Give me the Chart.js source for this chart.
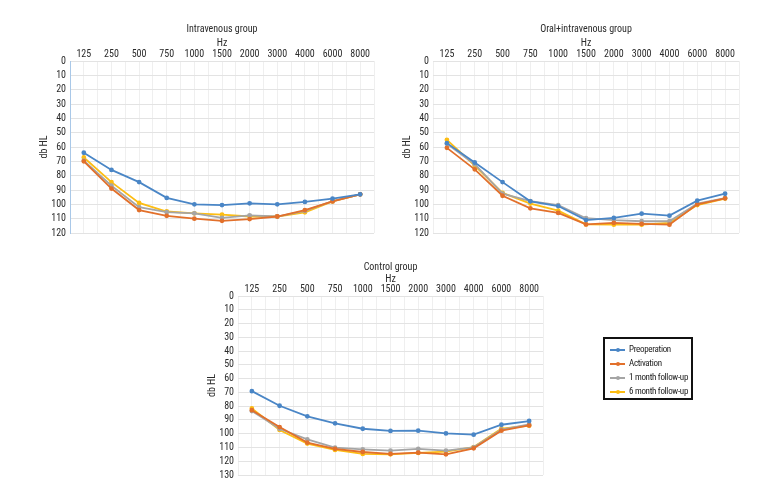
<!DOCTYPE html>
<html>
<head>
<meta charset="utf-8">
<script src="https://cdn.jsdelivr.net/npm/chart.js@4.4.0/dist/chart.umd.min.js"></script>
<style>
  html, body { margin: 0; padding: 0; background: #fff; }
  #page { position: relative; width: 780px; height: 504px; overflow: hidden; }
  #page canvas { position: absolute; left: 0; top: 0; }
  #legend {
    position: absolute; left: 603px; top: 337px; width: 84px; height: 59px;
    border: 2px solid #111; padding: 0 0 0 2px; white-space: nowrap; overflow: hidden;
    font: 9px 'Roboto Condensed', 'DejaVu Sans Condensed', sans-serif; letter-spacing: -0.3px; color: #222;
  }
  #legend .row { position: relative; height: 14px; line-height: 14px; padding-left: 22px; }
  #legend .row:first-child { margin-top: 3px; }
  #legend .swatch { position: absolute; left: 3px; top: 7px; width: 15px; height: 2px; }
  #legend .dot { position: absolute; left: 5.5px; top: -1px; width: 4px; height: 4px; border-radius: 2px; }
</style>
</head>
<body>
<div id="page">
  <canvas id="ivChart" width="780" height="504"></canvas>
  <canvas id="oralChart" width="780" height="504"></canvas>
  <canvas id="controlChart" width="780" height="504"></canvas>
  <div id="legend"></div>
</div>
<script>
// frequencies (Hz) along the top axis
const hzLabels = ['125', '250', '500', '750', '1000', '1500', '2000', '3000', '4000', '6000', '8000'];
const seriesNames = ['Preoperation', 'Activation', '1 month follow-up', '6 month follow-up'];
const seriesColors = ['#4a86c6', '#e2702b', '#a5a5a5', '#fdbd13'];

// Intravenous group (dB HL)
const ivPreop      = [64, 76, 84.5, 95.5, 100, 100.5, 99.3, 100, 98.3, 96, 93];
const ivActivation = [70, 89, 104, 108, 110, 111.5, 110.3, 108.5, 104, 98, 93];
const ivMonth1     = [69.5, 87, 102, 105.5, 106.3, 109.5, 107.7, 108.5, 104.6, 97.7, 93];
const ivMonth6     = [67.3, 84.5, 99, 105, 106.3, 107.2, 108.5, 108.5, 105.6, 98, 93];

// Oral+intravenous group
const oralPreop      = [57.3, 70.8, 84.5, 97.9, 101.2, 111, 109.5, 106.5, 107.9, 97.4, 92.6];
const oralActivation = [60.6, 75.6, 94, 102.8, 106, 114, 113, 113.7, 114.2, 100, 95.8];
const oralMonth1     = [57.8, 72, 92.6, 97.7, 100.5, 109.7, 111, 111.8, 111.8, 99.5, 95.6];
const oralMonth6     = [55, 72.9, 92, 99.5, 104.4, 114, 114.2, 114.2, 113, 100.5, 96];

// Control group
const ctrlPreop      = [69.1, 79.7, 87.4, 92.5, 96.4, 98, 97.8, 99.8, 100.7, 93.5, 90.8];
const ctrlActivation = [82.9, 95.2, 106.5, 111, 113.3, 114.7, 113.8, 115, 110.6, 97.8, 94];
const ctrlMonth1     = [83.6, 96.4, 104.1, 110.1, 111.4, 112.3, 111.1, 112.3, 109.9, 97.1, 93.2];
const ctrlMonth6     = [81.6, 97.3, 107.2, 111.8, 114.7, 115, 114, 113, 109.7, 96.4, 94.2];

const FONT = "'Roboto Condensed', 'DejaVu Sans Condensed', sans-serif";
const TEXT = '#2b2b2b';
const GRID = '#e3e3e3';
const VGRID = '#efefef';

function buildDatasets(seriesList) {
    return seriesList.map((values, i) => ({
        label: seriesNames[i],
        data: values,
        borderColor: seriesColors[i],
        backgroundColor: seriesColors[i],
        borderWidth: 1.8,
        pointRadius: 1.5,
        pointHoverRadius: 1.5,
        pointStyle: 'circle',
        tension: 0
    }));
}

/**
 * box: plot area edges and title centre on the page
 */
function makeChart(canvasId, title, seriesList, yMax, box) {
    const xHeight = box.top - (box.titleY + 6);
    const hzPad = Math.max(0, box.hzY - (box.titleY + 6) - 6);
    const font = { family: FONT, size: 10, weight: 'normal' };
    return new Chart(document.getElementById(canvasId), {
        type: 'line',
        data: { labels: hzLabels, datasets: buildDatasets(seriesList) },
        options: {
            responsive: false,
            animation: false,
            devicePixelRatio: 1,
            layout: {
                padding: {
                    left: box.left - 36,
                    right: 780 - box.right,
                    top: box.titleY - 6,
                    bottom: 504 - box.bottom
                }
            },
            plugins: {
                legend: { display: false },
                tooltip: { enabled: false },
                title: { display: true, text: title, fullSize: false, color: TEXT, padding: 0, font: font }
            },
            scales: {
                x: {
                    position: 'top',
                    offset: true,
                    grid: { color: VGRID, offset: true, drawTicks: false },
                    border: { display: false },
                    ticks: { color: TEXT, padding: 1, font: font, maxRotation: 0, autoSkip: false },
                    title: { display: true, text: 'Hz', color: TEXT, padding: { top: hzPad, bottom: 0 }, font: font },
                    afterFit: scale => { scale.height = xHeight; }
                },
                x2: {
                    position: 'top',
                    offset: true,
                    grid: { color: VGRID, offset: false, drawTicks: false },
                    border: { display: false },
                    ticks: { display: false },
                    afterFit: scale => { scale.height = 0; }
                },
                y: {
                    reverse: true,
                    min: 0,
                    max: yMax,
                    grid: { color: GRID, drawTicks: false },
                    border: { display: box.axisLine, color: '#a9c8e8', width: 1 },
                    ticks: { stepSize: 10, autoSkip: false, color: TEXT, padding: 4, font: font },
                    title: { display: true, text: 'db HL', color: TEXT, padding: { top: 4, bottom: 0 }, font: font },
                    afterFit: scale => { scale.width = 36; }
                }
            }
        }
    });
}

makeChart('ivChart', 'Intravenous group',
    [ivPreop, ivActivation, ivMonth1, ivMonth6], 120,
    { left: 70, right: 374, top: 61, bottom: 233, titleY: 29, hzY: 43, axisLine: true });

makeChart('oralChart', 'Oral+intravenous group',
    [oralPreop, oralActivation, oralMonth1, oralMonth6], 120,
    { left: 433, right: 739, top: 61, bottom: 233, titleY: 29, hzY: 43, axisLine: false });

makeChart('controlChart', 'Control group',
    [ctrlPreop, ctrlActivation, ctrlMonth1, ctrlMonth6], 130,
    { left: 238, right: 543, top: 296, bottom: 475, titleY: 267, hzY: 278, axisLine: false });

// legend box
document.getElementById('legend').innerHTML = seriesNames.map((name, i) =>
    `<div class="row"><span class="swatch" style="background:${seriesColors[i]}"><span class="dot" style="background:${seriesColors[i]}"></span></span>${name}</div>`
).join('');
</script>
</body>
</html>
